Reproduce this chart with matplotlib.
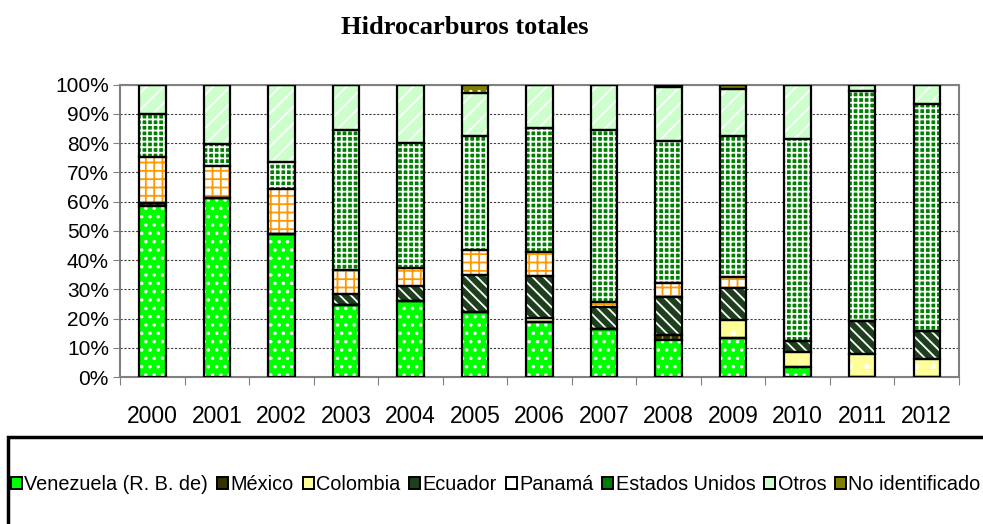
import numpy as np
import matplotlib
matplotlib.use("Agg")
import matplotlib.pyplot as plt
from matplotlib.patches import Patch, Rectangle

# Datos (porcentaje del total por año)
years = ["2000", "2001", "2002", "2003", "2004", "2005", "2006",
         "2007", "2008", "2009", "2010", "2011", "2012"]

venezuela = [58.5, 61.3, 48.8, 24.6, 26.0, 22.3, 18.7, 16.3, 12.6, 13.2, 3.5, 0.0, 0.0]
mexico = [1.0, 0.0, 0.0, 0.0, 0.0, 0.0, 0.0, 0.0, 1.8, 0.0, 0.0, 0.0, 0.0]
colombia = [0.0, 0.0, 0.0, 0.0, 0.0, 0.0, 1.4, 0.0, 0.0, 6.3, 5.2, 7.8, 6.2]
ecuador = [0.0, 0.0, 0.0, 3.8, 5.2, 12.6, 14.5, 7.5, 13.1, 10.8, 3.6, 11.3, 9.6]
panama = [15.8, 10.9, 15.5, 8.2, 6.2, 8.5, 8.2, 1.9, 4.5, 3.8, 0.0, 0.0, 0.0]
eeuu = [14.5, 7.5, 9.1, 47.8, 42.5, 39.1, 42.4, 58.7, 48.7, 48.4, 69.1, 78.8, 77.4]
otros = [10.2, 20.3, 26.6, 15.6, 20.1, 14.5, 14.8, 15.6, 18.3, 16.0, 18.6, 2.1, 6.8]
no_ident = [0.0, 0.0, 0.0, 0.0, 0.0, 3.0, 0.0, 0.0, 1.0, 1.5, 0.0, 0.0, 0.0]

series = [
    ("Venezuela (R. B. de)", venezuela, "#00ff00", "white", ".."),
    ("México", mexico, "#333300", "#999966", "||"),
    ("Colombia", colombia, "#ffff99", "white", "."),
    ("Ecuador", ecuador, "#1e3f1e", "white", "\\\\\\"),
    ("Panamá", panama, "#ffffff", "#ff9900", "++"),
    ("Estados Unidos", eeuu, "#008000", "white", "+++"),
    ("Otros", otros, "#ccffcc", "white", "//"),
    ("No identificado", no_ident, "#808000", "white", ".."),
]

plt.rcParams['font.family'] = ['Liberation Sans', 'DejaVu Sans']
plt.rcParams['hatch.linewidth'] = 1.3

fig = plt.figure(figsize=(9.83, 5.24), dpi=100)
ax = fig.add_axes([0.1221, 0.2805, 0.8535, 0.5582])

x = np.arange(len(years))
width = 0.41
bottom = np.zeros(len(years))
handles = []
for name, vals, fc, hc, hatch in series:
    vals = np.array(vals)
    # relleno con trama
    ax.bar(x, vals, width, bottom=bottom, color=fc, edgecolor=hc,
           hatch=hatch, linewidth=0, zorder=2)
    # borde negro
    ax.bar(x, vals, width, bottom=bottom, fill=False, edgecolor="black",
           linewidth=1.6, zorder=3)
    bottom += vals
    handles.append(Patch(facecolor=fc, edgecolor="black", linewidth=1.4,
                         label=name))

ax.set_xlim(-0.5, len(years) - 0.5)
ax.set_ylim(0, 100)
ax.set_yticks(np.arange(0, 101, 10))
ax.set_yticklabels([f"{v}%" for v in range(0, 101, 10)], fontsize=15)
ax.yaxis.grid(True, linestyle=(0, (2, 1.5)), color="#404040", linewidth=0.8, zorder=0)
ax.set_axisbelow(True)

ax.set_xticks(np.arange(-0.5, len(years), 1.0))
ax.set_xticklabels([])
ax.set_xticks(x, minor=True)
ax.set_xticklabels(years, minor=True, fontsize=16.5)
ax.tick_params(axis="x", which="major", direction="out", length=6, color="#808080")
ax.tick_params(axis="x", which="minor", length=0, pad=20)
ax.tick_params(axis="y", direction="out", length=5, color="#808080", pad=3)

for s in ax.spines.values():
    s.set_color("#808080")
    s.set_linewidth(1.5)

fig.text(465 / 983, 1 - 27 / 524, "Hidrocarburos totales", ha="center", va="center",
         fontsize=19, fontweight="bold", family=["Liberation Serif", "DejaVu Serif"])

# marco de la leyenda
fig.patches.append(Rectangle((8 / 983, -0.1), 1.2, (524 - 437) / 524 + 0.1,
                             transform=fig.transFigure, fill=False,
                             edgecolor="black", linewidth=2.5))
leg = fig.legend(handles=handles, loc="center", bbox_to_anchor=(0.5045, 1 - 485 / 524),
                 ncol=8, frameon=False, fontsize=14.3, handlelength=0.55,
                 handleheight=0.55, handletextpad=0.12, columnspacing=0.45,
                 borderaxespad=0)

fig.savefig("out.png", dpi=100)
